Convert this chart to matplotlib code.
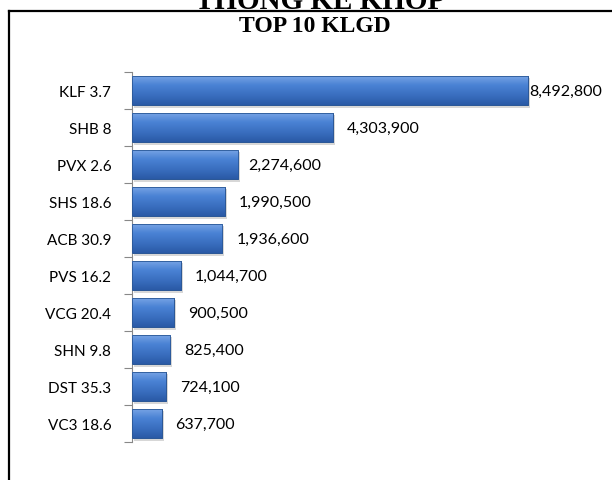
import matplotlib
matplotlib.use("Agg")
import matplotlib.pyplot as plt
from matplotlib.colors import LinearSegmentedColormap
import numpy as np

tickers = ["KLF 3.7", "SHB 8", "PVX 2.6", "SHS 18.6", "ACB 30.9",
           "PVS 16.2", "VCG 20.4", "SHN 9.8", "DST 35.3", "VC3 18.6"]
volumes = [8492800, 4303900, 2274600, 1990500, 1936600,
           1044700, 900500, 825400, 724100, 637700]

fig = plt.figure(figsize=(6.12, 4.81), dpi=100)

# frame of the page box (top and left lines)
fig.add_artist(plt.Line2D([9/612, 1], [1 - 12/481, 1 - 12/481], color="black", lw=1.6))
fig.add_artist(plt.Line2D([9/612, 9/612], [0, 1 - 12/481], color="black", lw=1.6))

# cropped heading above the box
fig.text(320/612, 1 - 9/481, "THỐNG KÊ KHỚP", ha="center", va="baseline",
         fontsize=21, fontweight="bold", family="Liberation Serif")
fig.text(315/612, 1 - 26/481, "TOP 10 KLGD", ha="center", va="center",
         fontsize=17, fontweight="bold", family="Liberation Serif")

ax = fig.add_axes([132/612, 1 - 443/481, 468/612, 370/481])
y = np.arange(len(tickers))
bars = ax.barh(y, volumes, height=0.8, color="#3d72c4", edgecolor="#2a5796", lw=0.6, zorder=2)

# gradient fill for the glossy look
cmap = LinearSegmentedColormap.from_list("g", ["#7aa6e6", "#4a82d4", "#3a6fc0", "#2a5aa6"])
grad = np.linspace(0, 1, 64).reshape(-1, 1)
for b in bars:
    x0, y0, w, h = b.get_x(), b.get_y(), b.get_width(), b.get_height()
    # shadow
    ax.barh(y0 + h / 2 + 0.06, w, height=h, left=x0 + 40000, color="#b0b0b0",
            alpha=0.5, zorder=1, lw=0)
    im = ax.imshow(grad, extent=[x0, x0 + w, y0 + h, y0], aspect="auto",
                   cmap=cmap, zorder=3)
    im.set_clip_path(b)
    ax.add_patch(plt.Rectangle((x0, y0), w, h, fill=False, ec="#2a5796", lw=0.6, zorder=4))

for i, v in enumerate(volumes):
    off = 1 if i == 0 else (7 if i == 2 else 10)
    ax.annotate(f"{v:,}", (v, i), xytext=(off, 0), textcoords="offset points",
                va="center", ha="left", fontsize=11.5, family="Lato")

ax.set_xlim(0, volumes[0] * 468 / 396)
ax.set_ylim(len(tickers) - 0.5, -0.5)
ax.set_yticks(y)
ax.set_yticklabels(tickers, family="Lato", fontsize=11)
ax.set_yticks(np.arange(-0.5, len(tickers)), minor=True)
ax.tick_params(axis="y", which="major", length=0, pad=15)
ax.tick_params(axis="y", which="minor", length=6, color="#888888", width=0.8)
ax.set_xticks([])
for s in ["top", "right", "bottom"]:
    ax.spines[s].set_visible(False)
ax.spines["left"].set_color("#888888")
ax.spines["left"].set_linewidth(0.8)

fig.savefig("out.png", dpi=100)
